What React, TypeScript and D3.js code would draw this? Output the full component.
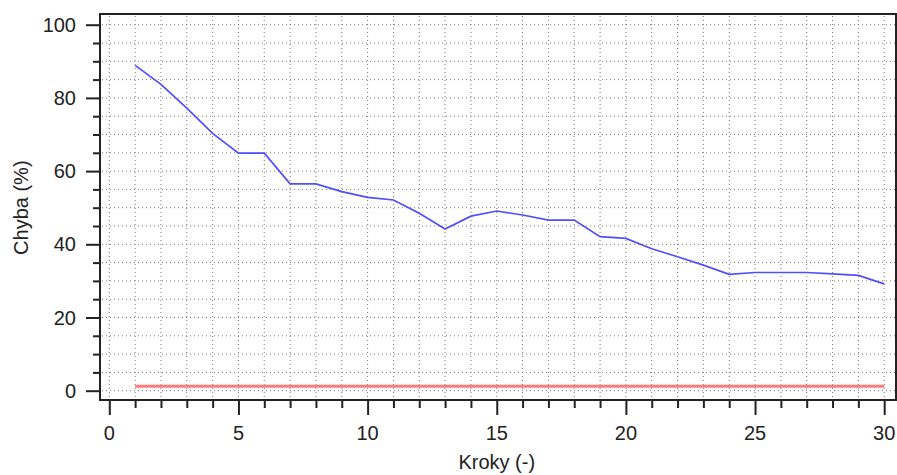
import React, { useEffect, useRef } from 'react';
import * as d3 from 'd3';

// kroky (x) a chyba v procentech
const steps = d3.range(1, 31);
const errorValues = [
  88.9, 83.7, 77.2, 70.3, 64.9, 64.9, 56.5, 56.5, 54.4, 52.8,
  52.1, 48.5, 44.2, 47.7, 49.1, 48.0, 46.6, 46.6, 42.1, 41.6,
  38.8, 36.6, 34.3, 31.8, 32.3, 32.3, 32.3, 31.9, 31.5, 29.2,
];
const baselineValues = steps.map(() => 1.2);

const xTicks = [0, 5, 10, 15, 20, 25, 30];
const yTicks = [0, 20, 40, 60, 80, 100];

const W = 897, H = 475;

export default function App() {
  const ref = useRef<SVGSVGElement>(null);

  useEffect(() => {
    const svg = d3.select(ref.current);
    svg.selectAll('*').remove();

    const box = { left: 100, top: 14, right: 896, bottom: 400 };
    const x = d3.scaleLinear().domain([0, 30]).range([109.3, 884.2]);
    const y = d3.scaleLinear().domain([0, 100]).range([390.7, 24.7]);

    const font = 'Liberation Sans, Arial, sans-serif';
    const fs = 20;

    // mrizka
    const grid = svg.append('g').attr('stroke', '#7a7a7a').attr('stroke-width', 1)
      .attr('stroke-dasharray', '1,3');
    grid.selectAll('line.v').data(d3.range(0, 31)).enter().append('line')
      .attr('x1', d => x(d)).attr('x2', d => x(d))
      .attr('y1', box.top + 2).attr('y2', box.bottom - 1);
    grid.selectAll('line.h').data(d3.range(0, 101, 5)).enter().append('line')
      .attr('y1', d => y(d)).attr('y2', d => y(d))
      .attr('x1', box.left + 2).attr('x2', box.right - 1);

    // osa y
    const yAxis = svg.append('g').attr('transform', `translate(${box.left}, 0)`)
      .call(d3.axisLeft(y).tickValues(d3.range(0, 101, 5)).tickSize(7).tickFormat(() => ''));
    yAxis.select('.domain').remove();
    yAxis.selectAll('line').attr('stroke', '#222').attr('stroke-width', 2);
    yAxis.selectAll('.tick').filter((d: any) => d % 20 === 0).select('line').attr('x2', -14);

    svg.append('g').selectAll('text').data(yTicks).enter().append('text')
      .attr('x', 76).attr('y', d => y(d)).attr('dy', '0.35em')
      .attr('text-anchor', 'end').attr('font-family', font).attr('font-size', fs)
      .attr('fill', '#222').text(d => d);

    // osa x
    const xAxis = svg.append('g').attr('transform', `translate(0, ${box.bottom})`)
      .call(d3.axisBottom(x).tickValues(d3.range(0, 31)).tickSize(8).tickFormat(() => ''));
    xAxis.select('.domain').remove();
    xAxis.selectAll('line').attr('stroke', '#222').attr('stroke-width', 2);
    xAxis.selectAll('.tick').filter((d: any) => d % 5 === 0).select('line').attr('y2', 15);

    svg.append('g').selectAll('text').data(xTicks).enter().append('text')
      .attr('x', d => x(d)).attr('y', 440)
      .attr('text-anchor', 'middle').attr('font-family', font).attr('font-size', fs)
      .attr('fill', '#222').text(d => d);

    // ramecek
    svg.append('rect')
      .attr('x', box.left).attr('y', box.top)
      .attr('width', box.right - box.left).attr('height', box.bottom - box.top)
      .attr('fill', 'none').attr('stroke', '#222').attr('stroke-width', 2);

    // popisky os
    svg.append('text').attr('x', (x(0) + x(30)) / 2).attr('y', 469)
      .attr('text-anchor', 'middle').attr('font-family', font).attr('font-size', fs)
      .attr('fill', '#222').text('Kroky (-)');
    svg.append('text')
      .attr('transform', `translate(28, ${(y(0) + y(100)) / 2}) rotate(-90)`)
      .attr('text-anchor', 'middle').attr('font-family', font).attr('font-size', fs)
      .attr('fill', '#222').text('Chyba (%)');

    // cary
    const line = d3.line<number>().x((_, i) => x(steps[i]));
    svg.append('path')
      .attr('d', line.y(d => y(d))(baselineValues))
      .attr('fill', 'none').attr('stroke', '#ff7b7b').attr('stroke-width', 3);
    svg.append('path')
      .attr('d', line.y(d => y(d))(errorValues))
      .attr('fill', 'none').attr('stroke', '#4f4fff').attr('stroke-width', 1.7);
  }, []);

  return (
    <svg ref={ref} width={W} height={H}
      style={{ position: 'absolute', left: 0, top: 0, background: '#fff' }} />
  );
}
